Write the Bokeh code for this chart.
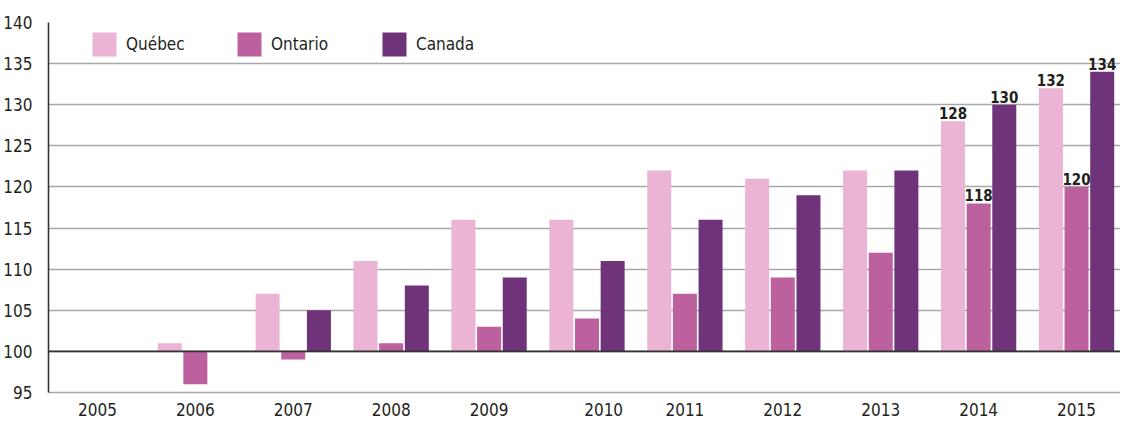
from bokeh.plotting import figure
from bokeh.models import (ColumnDataSource, FixedTicker, CustomJSTickFormatter,
                          Legend, LegendItem, Span, Range1d)
from bokeh.transform import dodge
from bokeh.core.properties import value
from bokeh.embed import file_html
from bokeh.resources import INLINE

# ---------------- data ----------------
years = ["2005", "2006", "2007", "2008", "2009", "2010",
         "2011", "2012", "2013", "2014", "2015"]
quebec = [100, 101, 107, 111, 116, 116, 122, 121, 122, 128, 132]
ontario = [100, 96, 99, 101, 103, 104, 107, 109, 112, 118, 120]
canada = [100, 100, 105, 108, 109, 111, 116, 119, 122, 130, 134]
series_names = ["Québec", "Ontario", "Canada"]
labelled_years = ["2014", "2015"]
y_ticks = [95, 100, 105, 110, 115, 120, 125, 130, 135, 140]
base_value = 100

# ---------------- style ----------------
FONT = "'DejaVu Sans Condensed', 'Liberation Sans Narrow', sans-serif"
colors = ["#ebb4d4", "#bc609e", "#6f337a"]
offsets = [-0.262, 0.0, 0.262]
bar_w = 0.245
TXT = "#231f20"

idx = list(range(len(years)))
src = ColumnDataSource(dict(x=idx, year=years, quebec=quebec, ontario=ontario,
                            canada=canada, base=[base_value] * len(years)))

p = figure(width=1120, height=418, output_backend="svg", toolbar_location=None,
           x_range=Range1d(-0.5, 10.449), y_range=Range1d(95, 140),
           min_border_left=47, min_border_right=0, min_border_top=22,
           min_border_bottom=23)
p.outline_line_color = None
p.background_fill_color = "white"

renderers = []
for col, c, off in zip(["quebec", "ontario", "canada"], colors, offsets):
    r = p.vbar(x=dodge("x", off), width=bar_w, bottom="base", top=col,
               source=src, fill_color=c, line_color=None)
    renderers.append(r)

# baseline at 100
p.add_layout(Span(location=base_value, dimension="width", line_color="#333333",
                  line_width=1.6))

# grid
p.xgrid.visible = False
p.ygrid.ticker = FixedTicker(ticks=y_ticks)
p.ygrid.grid_line_color = "#a8a8a8"
p.ygrid.grid_line_width = 1.6

# y axis
p.yaxis.ticker = FixedTicker(ticks=y_ticks)
p.yaxis.axis_line_color = "#333333"
p.yaxis.axis_line_width = 1.6
p.yaxis.major_tick_line_color = None
p.yaxis.minor_tick_line_color = None
p.yaxis.major_label_text_font = FONT
p.yaxis.major_label_text_font_size = "17px"
p.yaxis.major_label_text_color = TXT
p.yaxis.major_label_standoff = 10

# x axis
tick_pos = [i + (0.17 if years[i] == "2010" else 0.0) for i in idx]
p.xaxis.ticker = FixedTicker(ticks=tick_pos)
p.xaxis.formatter = CustomJSTickFormatter(args=dict(years=years),
                                          code="return years[Math.round(tick)];")
p.xaxis.axis_line_color = "#a8a8a8"
p.xaxis.axis_line_width = 1.6
p.xaxis.major_tick_line_color = None
p.xaxis.minor_tick_line_color = None
p.xaxis.major_label_text_font = FONT
p.xaxis.major_label_text_font_size = "17px"
p.xaxis.major_label_text_color = TXT
p.xaxis.major_label_standoff = 4

# data labels
lab_i = [years.index(y) for y in labelled_years]
for vals, off in zip([quebec, ontario, canada], offsets):
    ls = ColumnDataSource(dict(x=[idx[i] for i in lab_i],
                               y=[vals[i] for i in lab_i],
                               t=[str(vals[i]) for i in lab_i]))
    p.text(x=dodge("x", off), y="y", text="t", source=ls,
           text_font=value(FONT), text_font_size="15px", text_font_style="bold",
           text_align="center", text_baseline="bottom", y_offset=-2,
           text_color=TXT)

# legend
legend = Legend(items=[LegendItem(label=n, renderers=[r])
                       for n, r in zip(series_names, renderers)],
                orientation="horizontal", location=(41, 333),
                padding=0, margin=0, spacing=6, glyph_width=30, glyph_height=30,
                label_standoff=7, label_width=102, border_line_color=None,
                background_fill_alpha=0, label_text_font=FONT,
                label_text_font_size="17px", label_text_color=TXT)
p.add_layout(legend)

open("out.html", "w").write(file_html(p, INLINE))
